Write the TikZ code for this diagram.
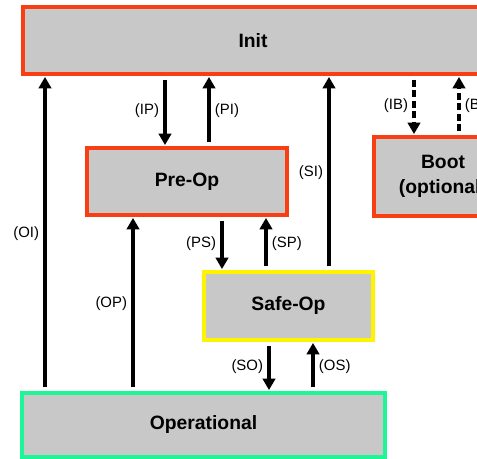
\documentclass[tikz,border=0pt]{standalone}
\usepackage{fontspec}
\setmainfont{Liberation Sans}
\usetikzlibrary{arrows.meta}
\definecolor{stred}{RGB}{250,62,20}
\definecolor{styellow}{RGB}{255,244,0}
\definecolor{stgreen}{RGB}{30,245,150}
\definecolor{stgray}{RGB}{200,200,200}
\tikzset{state/.style={draw, line width=2.3pt, fill=stgray, font=\fontsize{11}{14}\selectfont\bfseries, align=center, inner sep=0pt}}
\tikzset{redstate/.style={state, draw=stred}}
\tikzset{trans/.style={line width=2.8pt, -{Triangle[width=7pt,length=6.5pt]}, shorten >=0.5pt, shorten <=2pt}}
\tikzset{optional/.style={trans, dash pattern=on 4pt off 2pt}}
\tikzset{lbl/.style={font=\fontsize{8.5}{10}\selectfont, inner sep=2pt}}

\begin{document}
\begin{tikzpicture}[x=0.02cm,y=-0.02cm]
\clip (0,0) rectangle (477,459);
\node[redstate, minimum width=9.2cm, minimum height=1.34cm] (init) at (253,40.5) {Init};
\node[redstate, minimum width=4cm, minimum height=1.34cm] (preop) at (187,181.5) {Pre-Op};
\node[redstate, minimum width=2.76cm, minimum height=1.58cm] (boot) at (443,176.5) {Boot\\(optional)};
\node[state, draw=styellow, minimum width=3.38cm, minimum height=1.36cm] (safeop) at (288.5,306) {Safe-Op};
\node[state, draw=stgreen, minimum width=7.26cm, minimum height=1.28cm] (op) at (203.5,425) {Operational};
\coordinate (xOI) at (45,0);
\coordinate (xOP) at (133,0);
\coordinate (xIP) at (165,0);
\coordinate (xPI) at (209,0);
\coordinate (xPS) at (222,0);
\coordinate (xSP) at (266,0);
\coordinate (xSO) at (269,0);
\coordinate (xOS) at (313,0);
\coordinate (xSI) at (329,0);
\coordinate (xIB) at (414,0);
\coordinate (xBI) at (459,0);
\draw[trans] (op.north -| xOI) -- node[lbl, left] (lOI) {(OI)} (init.south -| xOI);
\draw[trans] (op.north -| xOP) -- node[lbl, left] (lOP) {(OP)} (preop.south -| xOP);
\draw[trans] (init.south -| xIP) -- node[lbl, left] (lIP) {(IP)} (preop.north -| xIP);
\draw[trans] (preop.north -| xPI) -- node[lbl, right] (lPI) {(PI)} (init.south -| xPI);
\draw[trans] (preop.south -| xPS) -- node[lbl, left] (lPS) {(PS)} (safeop.north -| xPS);
\draw[trans] (safeop.north -| xSP) -- node[lbl, right] (lSP) {(SP)} (preop.south -| xSP);
\draw[trans] (safeop.south -| xSO) -- node[lbl, left] (lSO) {(SO)} (op.north -| xSO);
\draw[trans] (op.north -| xOS) -- node[lbl, right] (lOS) {(OS)} (safeop.south -| xOS);
\draw[trans] (safeop.north -| xSI) -- node[lbl, left] (lSI) {(SI)} (init.south -| xSI);
\draw[optional] (init.south -| xIB) -- node[lbl, left] (lIB) {(IB)} (boot.north -| xIB);
\draw[optional] (boot.north -| xBI) -- node[lbl, right] (lBI) {(BI)} (init.south -| xBI);
\end{tikzpicture}
\end{document}
